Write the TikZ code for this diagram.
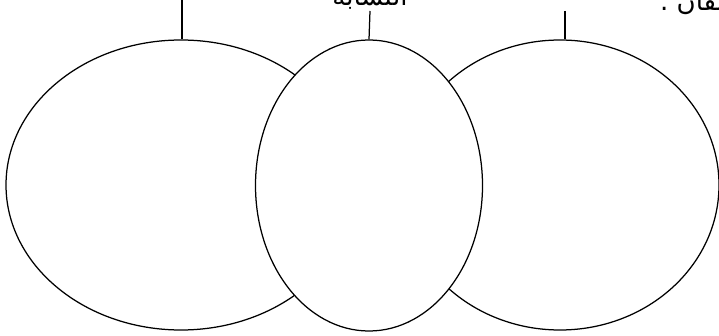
\documentclass[tikz,border=0pt]{standalone}
\usepackage{fontspec}
\usetikzlibrary{shapes.geometric}
\TeXXeTstate=1
\newfontfamily\arabicfont[Script=Arabic]{DejaVu Sans}
\begin{document}
\begin{tikzpicture}[x=1pt,y=-1pt,
  circ/.style={draw=black, line width=1.25pt, ellipse, inner sep=0pt, fill=white},
  lbl/.style={font=\arabicfont\fontsize{26}{30}\selectfont, inner sep=0pt},
  conn/.style={draw=black, line width=1.25pt}]
\useasboundingbox (0,0) rectangle (719,336);
\clip (0,0) rectangle (719,336);
\node[circ, minimum width=350pt, minimum height=290pt] (L) at (181,185) {};
\node[circ, minimum width=318pt, minimum height=290pt] (R) at (560,185) {};
\node[circ, minimum width=227pt, minimum height=291pt] (M) at (369,185.5) {};
\node[lbl, anchor=base] (tm) at (370,6) {\beginR التشابه\endR};
\node[lbl, anchor=base west] (tr) at (660,11) {\beginR يختلفان .\endR};
\coordinate (cl) at (182,0);
\coordinate (cm) at (370,11);
\coordinate (cr) at (565,11);
\draw[conn] (cl) -- (L.north -| cl);
\draw[conn] (cm) -- (M.north);
\draw[conn] (cr) -- (R.north -| cr);
\end{tikzpicture}
\end{document}
